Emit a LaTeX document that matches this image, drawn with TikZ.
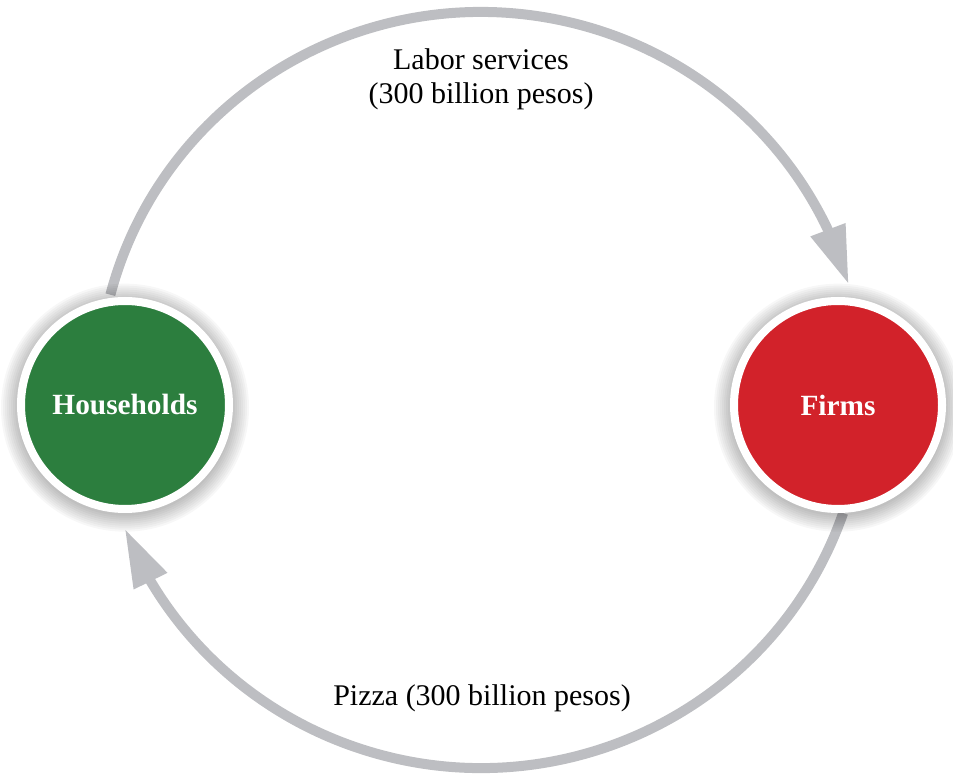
\documentclass[tikz,border=0pt]{standalone}
\usepackage{fontspec}
\setmainfont{Liberation Serif}
\usetikzlibrary{arrows.meta,bending}
\definecolor{flowgray}{RGB}{189,190,194}
\definecolor{hhgreen}{RGB}{44,126,62}
\definecolor{firmred}{RGB}{210,34,42}
\begin{document}
\begin{tikzpicture}[x=0.75pt,y=0.75pt,
  flow/.style={draw=flowgray,line width=7.5pt,-{Triangle[length=44pt,width=26pt,flex]}},
  agent/.style={circle,draw=white,line width=6pt,minimum size=156pt,inner sep=0pt,text=white,
    font=\fontsize{22}{26}\selectfont\bfseries},
  glow/.style={fill=black,opacity=0.03},
  lbl/.style={font=\fontsize{22.5}{25.5}\selectfont,align=center,inner sep=0pt}]
\useasboundingbox (0,0) rectangle (953,775);
\coordinate (c) at (481,385);
\coordinate (hc) at (125,370);
\coordinate (fc) at (838,370);
% flows
\draw[flow] ([shift={({383*cos(165.4)},{378*sin(165.4)})}]c)
  arc[start angle=165.4,end angle=16.2,x radius=383,y radius=378];
\draw[flow] ([shift={({383*cos(-19)},{378*sin(-19)})}]c)
  arc[start angle=-19,end angle=-158.5,x radius=383,y radius=378];
% shadows
\foreach \k in {1,...,9}{
  \fill[glow] ([yshift=-2]hc) circle[radius=106+2*\k];
  \fill[glow] ([yshift=-2]fc) circle[radius=106+2*\k];
}
% agents
\node[agent,fill=hhgreen] (H) at (hc) {Households};
\node[agent,fill=firmred] (F) at (fc) {Firms};
% labels
\node[lbl] (labor) at (481,696) {Labor services\\(300 billion pesos)};
\node[lbl,anchor=base] (pizza) at (482,70) {Pizza (300 billion pesos)};
\end{tikzpicture}
\end{document}
